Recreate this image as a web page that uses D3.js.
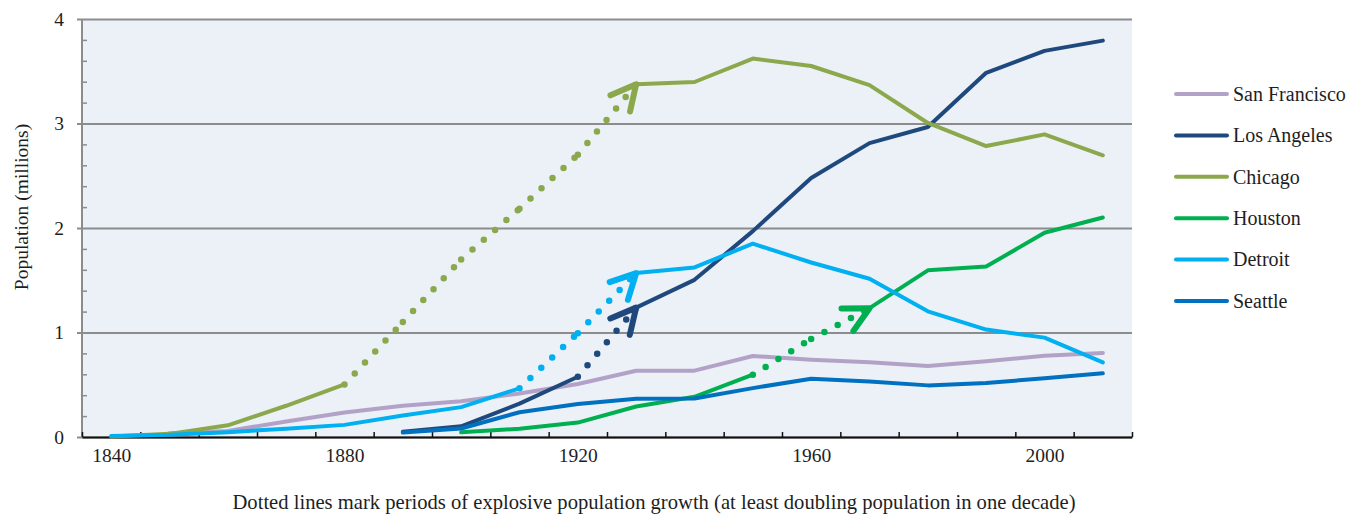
<!DOCTYPE html>
<html><head><meta charset="utf-8">
<script src="https://cdn.jsdelivr.net/npm/d3@7"></script>
<style>
body{margin:0;background:#fff;}
svg{display:block;font-family:"Liberation Serif","Times New Roman",serif;}
</style>
</head><body>
<svg id="chart" width="1359" height="514"></svg>
<script>
// ---- data (population, millions) ----
const years = [1840,1850,1860,1870,1880,1890,1900,1910,1920,1930,1940,1950,1960,1970,1980,1990,2000,2010];
const sanFrancisco = [null,0.035,0.057,0.149,0.234,0.299,0.343,0.417,0.507,0.634,0.635,0.775,0.740,0.716,0.679,0.724,0.777,0.805];
const losAngeles   = [null,null,null,null,null,0.050,0.102,0.319,0.577,1.238,1.504,1.970,2.479,2.812,2.967,3.485,3.695,3.793];
const chicago      = [0.0045,0.030,0.112,0.299,0.503,1.100,1.699,2.185,2.702,3.376,3.397,3.621,3.550,3.367,3.005,2.784,2.896,2.696];
const houston      = [null,null,null,null,null,null,0.045,0.079,0.138,0.292,0.385,0.596,0.938,1.233,1.595,1.631,1.954,2.100];
const detroit      = [0.009,0.021,0.046,0.080,0.116,0.206,0.286,0.466,0.994,1.569,1.623,1.850,1.670,1.514,1.203,1.028,0.951,0.714];
const seattle      = [null,null,null,null,null,0.043,0.081,0.237,0.315,0.366,0.368,0.468,0.557,0.531,0.494,0.516,0.563,0.609];

const cityNames  = ["San Francisco","Los Angeles","Chicago","Houston","Detroit","Seattle"];
const cityValues = [sanFrancisco, losAngeles, chicago, houston, detroit, seattle];
const cityColors = ["#B3A2C7","#1F497D","#8BA84D","#00B050","#00B0F0","#0070C0"];
// explosive growth periods (drawn dotted with an arrow)
const explosiveStart = [null,1920,1880,1950,1910,null];
const explosiveEnd   = [null,1930,1930,1970,1930,null];

const yTickValues = [0,1,2,3,4];
const yMinorValues = [0.2,0.4,0.6,0.8,1.2,1.4,1.6,1.8,2.2,2.4,2.6,2.8,3.2,3.4,3.6,3.8];
const xTickBoundaries = [1835,1845,1855,1865,1875,1885,1895,1905,1915,1925,1935,1945,1955,1965,1975,1985,1995,2005,2015];
const xLabelYears = [1840,1880,1920,1960,2000];
const yTitle = "Population (millions)";
const caption = "Dotted lines mark periods of explosive population growth (at least doubling population in one decade)";

// ---- layout ----
const svg = d3.select("#chart");
const pL = 82, pR = 1132, pT = 19, pB = 437;
const FONT = 19.5, TXT = "#1e1e1e";

const x = d3.scaleLinear().domain([1835, 2015]).range([pL, pR]);
const y = d3.scaleLinear().domain([0, 4]).range([pB, pT]);

svg.append("rect").attr("x", pL).attr("y", pT)
  .attr("width", pR - pL).attr("height", pB - pT).attr("fill", "#ECF1F8");

// gridlines + y labels
const yAxis = svg.append("g").attr("transform", `translate(${pL},0)`)
  .call(d3.axisLeft(y).tickValues(yTickValues).tickSize(5).tickPadding(13).tickFormat(d3.format("d")));
yAxis.select(".domain").remove();
yAxis.selectAll(".tick line").attr("x1", -5).attr("x2", pR - pL)
  .attr("stroke", "#8C8C8C").attr("stroke-width", 2);
yAxis.selectAll(".tick text").attr("font-size", FONT).attr("fill", TXT)
  .attr("font-family", "Liberation Serif").attr("dy", "0.32em");

// minor ticks (inside)
const yMinor = svg.append("g").attr("transform", `translate(${pL},0)`)
  .call(d3.axisRight(y).tickValues(yMinorValues).tickSize(5).tickFormat(""));
yMinor.select(".domain").remove();
yMinor.selectAll(".tick line").attr("stroke", "#8C8C8C").attr("stroke-width", 1.5);

// y axis line
svg.append("line").attr("x1", pL).attr("x2", pL).attr("y1", pT).attr("y2", pB)
  .attr("stroke", "#8C8C8C").attr("stroke-width", 2);

// x axis (ticks between categories, inside)
const xAxis = svg.append("g").attr("transform", `translate(0,${pB})`)
  .call(d3.axisBottom(x).tickValues(xTickBoundaries).tickSize(-5).tickSizeOuter(0).tickFormat(""));
xAxis.select(".domain").attr("stroke", "#111").attr("stroke-width", 2);
xAxis.selectAll(".tick line").attr("stroke", "#111").attr("stroke-width", 1.5);

const xLab = svg.append("g").attr("transform", `translate(0,${pB})`)
  .call(d3.axisBottom(x).tickValues(xLabelYears).tickSize(0).tickPadding(11).tickFormat(d3.format("d")));
xLab.select(".domain").remove();
xLab.selectAll(".tick text").attr("font-size", FONT).attr("fill", TXT).attr("font-family", "Liberation Serif");

// titles
svg.append("text").attr("transform", `translate(28,207) rotate(-90)`)
  .attr("text-anchor", "middle").attr("font-size", FONT).attr("fill", TXT).text(yTitle);
svg.append("text").attr("x", 654).attr("y", 509).attr("text-anchor", "middle")
  .attr("font-size", 20.6).attr("fill", TXT).text(caption);

// ---- series ----
const line = d3.line().x(d => x(d.year)).y(d => y(d.v));
const series = cityNames.map((name, i) => ({
  name, color: cityColors[i], s: explosiveStart[i], e: explosiveEnd[i],
  pts: years.map((yr, j) => ({year: yr, v: cityValues[i][j]})).filter(d => d.v != null)
}));

const gSolid = svg.append("g");
series.forEach(c => {
  const parts = c.s == null ? [c.pts]
    : [c.pts.filter(d => d.year <= c.s), c.pts.filter(d => d.year >= c.e)];
  parts.filter(p => p.length > 1).forEach(p => {
    gSolid.append("path").attr("d", line(p)).attr("fill", "none")
      .attr("stroke", c.color).attr("stroke-width", 4)
      .attr("stroke-linejoin", "round").attr("stroke-linecap", "round");
  });
});

const gDot = svg.append("g");
series.filter(c => c.s != null).forEach(c => {
  const seg = c.pts.filter(d => d.year >= c.s && d.year <= c.e);
  for (let k = 0; k < seg.length - 1; k++) {
    gDot.append("path").attr("d", line([seg[k], seg[k + 1]])).attr("fill", "none")
      .attr("stroke", c.color).attr("stroke-width", 6.5)
      .attr("stroke-linecap", "round").attr("stroke-dasharray", "0,15");
  }
  // arrow head at the end of the explosive period
  const a = seg[seg.length - 2], b = seg[seg.length - 1];
  const tx = x(b.year), ty = y(b.v);
  const ang = Math.atan2(y(a.v) - ty, x(a.year) - tx);
  const L = 28, half = 27 * Math.PI / 180;
  const p1 = [tx + L * Math.cos(ang - half), ty + L * Math.sin(ang - half)];
  const p2 = [tx + L * Math.cos(ang + half), ty + L * Math.sin(ang + half)];
  gDot.append("path").attr("d", `M${p1}L${tx},${ty}L${p2}`).attr("fill", "none")
    .attr("stroke", c.color).attr("stroke-width", 6)
    .attr("stroke-linecap", "round").attr("stroke-linejoin", "round");
});

// ---- legend ----
const leg = svg.append("g");
series.forEach((c, i) => {
  const g = leg.append("g").attr("transform", `translate(1175,${94 + i * 41.4})`);
  g.append("line").attr("x1", 1).attr("x2", 52).attr("stroke", c.color)
    .attr("stroke-width", 4).attr("stroke-linecap", "round");
  g.append("text").attr("x", 58).attr("dy", "0.34em").attr("font-size", 20)
    .attr("fill", TXT).text(c.name);
});
</script>
</body></html>
